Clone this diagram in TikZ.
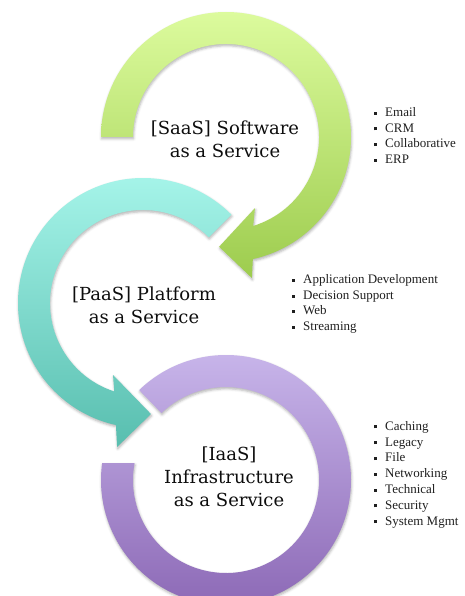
\documentclass[tikz,border=0pt]{standalone}
\usepackage{fontspec}
\setmainfont{Liberation Serif}
\newfontfamily\labelfont{DejaVu Serif}
\usetikzlibrary{calc,shadows.blur}

\definecolor{saastop}{HTML}{DCFB9D}
\definecolor{saasbot}{HTML}{9DCC4E}
\definecolor{paastop}{HTML}{A8F6EB}
\definecolor{paasbot}{HTML}{58BEAF}
\definecolor{iaastop}{HTML}{CAB8EC}
\definecolor{iaasbot}{HTML}{8A66B4}

\newcommand{\itm}{\makebox[11.5pt][l]{\raisebox{1.8pt}{\rule{3pt}{3pt}}}}

\begin{document}
\begin{tikzpicture}[x=1pt, y=1pt,
    ring/.style={blur shadow={shadow xshift=0.6pt, shadow yshift=-1.8pt,
        shadow blur radius=2.5pt, shadow opacity=30}},
    title/.style={font=\labelfont\fontsize{18}{23}\selectfont, align=center, text=black!95},
    list/.style={font=\fontsize{13}{15.6}\selectfont, align=left, anchor=west,
        inner sep=0pt, text=black!88}]
  \useasboundingbox (0,0) rectangle (465,-596);
  \clip (0,0) rectangle (465,-596);
  % ring centres
  \coordinate (G) at (226,-137);
  \coordinate (C) at (143,-303);
  \coordinate (P) at (226,-480);

  % SaaS ring
  \path[ring, top color=saastop, bottom color=saasbot]
    ($(G)+(180:125)$) arc[start angle=180, end angle=-77.6, radius=125]
    -- ($(G)+(-79.6:143.4)$) -- ($(G)+(-93.6:110)$) -- ($(G)+(-67.8:76.7)$)
    -- ($(G)+(-73:93)$) arc[start angle=-73, end angle=180, radius=93] -- cycle;

  % PaaS ring
  \path[ring, top color=paastop, bottom color=paasbot]
    ($(C)+(45:125)$) arc[start angle=45, end angle=257.5, radius=125]
    -- ($(C)+(259.8:146.3)$) -- ($(C)+(274.1:111.3)$) -- ($(C)+(247.4:78)$)
    -- ($(C)+(252:93)$) arc[start angle=252, end angle=45, radius=93] -- cycle;

  % IaaS ring
  \path[ring, top color=iaastop, bottom color=iaasbot]
    ($(P)+(134:125)$) arc[start angle=134, end angle=-187.8, radius=125]
    -- ($(P)+(-190.5:93)$) arc[start angle=-190.5, end angle=134, radius=93] -- cycle;

  % titles
  \node[title] (saas) at (225,-139) {[SaaS] Software\\as a Service};
  \node[title] (paas) at (144,-305) {[PaaS] Platform\\as a Service};
  \node[title] (iaas) at (229,-477) {[IaaS]\\Infrastructure\\as a Service};

  % lists
  \node[list] (saaslist) at (373.5,-135.5) {\itm Email\\\itm CRM\\\itm Collaborative\\\itm ERP};
  \node[list] (paaslist) at (291.5,-304) {\itm Application Development\\\itm Decision Support\\\itm Web\\\itm Streaming};
  \node[list, font=\fontsize{13}{15.8}\selectfont] (iaaslist) at (373.5,-474.5)
    {\itm Caching\\\itm Legacy\\\itm File\\\itm Networking\\\itm Technical\\\itm Security\\\itm System Mgmt};
\end{tikzpicture}
\end{document}
